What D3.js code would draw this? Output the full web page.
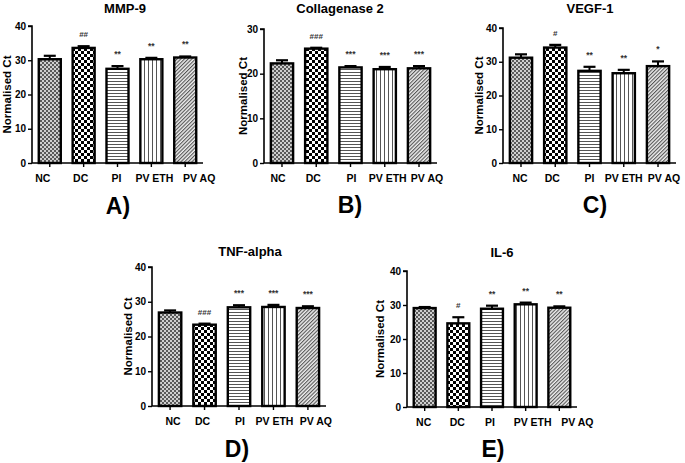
<!DOCTYPE html>
<html><head><meta charset="utf-8">
<script src="https://cdn.jsdelivr.net/npm/d3@7"></script>
<style>body{margin:0;background:#fff}svg{display:block}text{font-family:"Liberation Sans",Arial,sans-serif;font-weight:bold}</style>
</head><body><svg id="c" width="685" height="463"></svg>
<script>
// ---- data ----
const categories = ["NC", "DC", "PI", "PV ETH", "PV AQ"];
const panelTitles = ["MMP-9", "Collagenase 2", "VEGF-1", "TNF-alpha", "IL-6"];
const panelLetters = ["A)", "B)", "C)", "D)", "E)"];
const yAxisLabel = "Normalised Ct";

const mmp9Values = [30.3, 33.6, 27.5, 30.3, 30.8];
const mmp9Errors = [1.0, 0.5, 0.8, 0.4, 0.3];
const mmp9Signif = ["", "##", "**", "**", "**"];

const collagenaseValues = [22.3, 25.6, 21.4, 21.0, 21.2];
const collagenaseErrors = [0.7, 0.2, 0.3, 0.5, 0.5];
const collagenaseSignif = ["", "###", "***", "***", "***"];

const vegfValues = [31.2, 34.2, 27.3, 26.6, 28.7];
const vegfErrors = [1.0, 0.8, 1.2, 1.0, 1.4];
const vegfSignif = ["", "#", "**", "**", "*"];

const tnfValues = [26.9, 23.4, 28.4, 28.5, 28.2];
const tnfErrors = [0.6, 0.3, 0.6, 0.6, 0.5];
const tnfSignif = ["", "###", "***", "***", "***"];

const il6Values = [29.1, 24.6, 28.9, 30.2, 29.2];
const il6Errors = [0.3, 1.8, 0.9, 0.5, 0.4];
const il6Signif = ["", "#", "**", "**", "**"];

const ticks40 = [0, 10, 20, 30, 40];
const ticks30 = [0, 10, 20, 30];

// ---- layout ----
// labShift: horizontal offset of each category label from its tick
const layout = [
  {values: mmp9Values, errors: mmp9Errors, signif: mmp9Signif, ticks: ticks40,
   x0: 32, x1: 203, yTop: 26, yBot: 163, labShift: [-7, -3, -1, 3, 14], title: [125, 13], letter: [118, 214], ylab: 11},
  {values: collagenaseValues, errors: collagenaseErrors, signif: collagenaseSignif, ticks: ticks30,
   x0: 264, x1: 437, yTop: 29, yBot: 163, labShift: [-4, -3, 1, 3, 8], title: [340, 13], letter: [350, 213], ylab: 247},
  {values: vegfValues, errors: vegfErrors, signif: vegfSignif, ticks: ticks40,
   x0: 503, x1: 676, yTop: 28, yBot: 163, labShift: [-1, -3, 0, 0, 6], title: [590, 13], letter: [595, 213], ylab: 483},
  {values: tnfValues, errors: tnfErrors, signif: tnfSignif, ticks: ticks40,
   x0: 152, x1: 326, yTop: 267, yBot: 406, labShift: [3, -2, 1, 1, 8], title: [250, 256], letter: [237, 457], ylab: 132},
  {values: il6Values, errors: il6Errors, signif: il6Signif, ticks: ticks40,
   x0: 407, x1: 577, yTop: 271, yBot: 407, labShift: [-1, -1, -2, 7, 18], title: [502, 257], letter: [493, 457], ylab: 384}
];

const svg = d3.select("#c");
const defs = svg.append("defs");

// patterns
const pNC = defs.append("pattern").attr("id", "pNC").attr("patternUnits", "userSpaceOnUse").attr("width", 4).attr("height", 4);
pNC.append("rect").attr("width", 4).attr("height", 4).attr("fill", "#cfcfcf");
pNC.append("rect").attr("width", 2).attr("height", 2).attr("fill", "#5a5a5a");
pNC.append("rect").attr("x", 2).attr("y", 2).attr("width", 2).attr("height", 2).attr("fill", "#5a5a5a");

const pDC = defs.append("pattern").attr("id", "pDC").attr("patternUnits", "userSpaceOnUse").attr("width", 6).attr("height", 6);
pDC.append("rect").attr("width", 6).attr("height", 6).attr("fill", "#fff");
pDC.append("rect").attr("width", 3).attr("height", 3).attr("fill", "#000");
pDC.append("rect").attr("x", 3).attr("y", 3).attr("width", 3).attr("height", 3).attr("fill", "#000");

const pPI = defs.append("pattern").attr("id", "pPI").attr("patternUnits", "userSpaceOnUse").attr("width", 4).attr("height", 3);
pPI.append("rect").attr("width", 4).attr("height", 3).attr("fill", "#fff");
pPI.append("rect").attr("width", 4).attr("height", 1).attr("fill", "#555");

const pETH = defs.append("pattern").attr("id", "pETH").attr("patternUnits", "userSpaceOnUse").attr("width", 4).attr("height", 4);
pETH.append("rect").attr("width", 4).attr("height", 4).attr("fill", "#fff");
pETH.append("rect").attr("width", 1).attr("height", 4).attr("fill", "#555");

const pAQ = defs.append("pattern").attr("id", "pAQ").attr("patternUnits", "userSpaceOnUse").attr("width", 2.6).attr("height", 4).attr("patternTransform", "rotate(45)");
pAQ.append("rect").attr("width", 2.6).attr("height", 4).attr("fill", "#eee");
pAQ.append("rect").attr("width", 1.1).attr("height", 4).attr("fill", "#555");

const fills = ["url(#pNC)", "url(#pDC)", "url(#pPI)", "url(#pETH)", "url(#pAQ)"];

layout.forEach((p, i) => {
  const g = svg.append("g");
  const maxV = d3.max(p.ticks);
  const x = d3.scaleBand().domain(categories).range([p.x0, p.x1]).paddingInner(0.35).paddingOuter(0.2);
  const y = d3.scaleLinear().domain([0, maxV]).range([p.yBot, p.yTop]);

  // bars
  g.selectAll("rect.bar").data(categories).join("rect")
    .attr("x", d => x(d)).attr("width", x.bandwidth())
    .attr("y", (d, j) => y(p.values[j])).attr("height", (d, j) => y(0) - y(p.values[j]))
    .attr("fill", (d, j) => fills[j]).attr("stroke", "#000").attr("stroke-width", 2.4);

  // error bars
  const cap = 6;
  categories.forEach((c, j) => {
    const cx = x(c) + x.bandwidth() / 2;
    const top = y(p.values[j] + p.errors[j]);
    g.append("line").attr("x1", cx).attr("x2", cx).attr("y1", y(p.values[j])).attr("y2", top)
      .attr("stroke", "#000").attr("stroke-width", 2);
    g.append("line").attr("x1", cx - cap).attr("x2", cx + cap).attr("y1", top).attr("y2", top)
      .attr("stroke", "#000").attr("stroke-width", 2.2);
    if (p.signif[j]) {
      g.append("text").attr("x", cx).attr("y", top - 9).attr("text-anchor", "middle")
        .attr("font-size", p.signif[j].startsWith("#") ? 8 : 8.5).attr("fill", "#333")
        .attr("font-weight", "normal").text(p.signif[j]);
    }
  });

  // y axis
  const ya = g.append("g").attr("transform", `translate(${p.x0},0)`)
    .call(d3.axisLeft(y).tickValues(p.ticks).tickSize(4).tickPadding(2).tickFormat(d3.format("d")));
  ya.select(".domain").attr("stroke-width", 1.6).attr("d", `M-4,${p.yTop}H0V${p.yBot}`);
  ya.selectAll(".tick line").attr("stroke-width", 1.4);
  ya.selectAll(".tick text").attr("font-size", 10).attr("font-family", "Liberation Sans, Arial, sans-serif").attr("font-weight", "bold");

  // x axis
  const xa = g.append("g").attr("transform", `translate(0,${p.yBot})`)
    .call(d3.axisBottom(x).tickSize(4).tickFormat(""));
  xa.select(".domain").attr("stroke-width", 1.6).attr("d", `M${p.x0},0H${p.x1}`);
  xa.selectAll(".tick line").attr("stroke-width", 1.4);
  g.selectAll("text.xl").data(categories).join("text").attr("class", "xl")
    .attr("x", (d, j) => x(d) + x.bandwidth() / 2 + p.labShift[j]).attr("y", p.yBot + 19).attr("text-anchor", "middle")
    .attr("font-size", 10.5).text(d => d);

  // y label
  g.append("text").attr("transform", `translate(${p.ylab},${(p.yTop + p.yBot) / 2}) rotate(-90)`)
    .attr("text-anchor", "middle").attr("font-size", 11.5).text(yAxisLabel);

  // title
  g.append("text").attr("x", p.title[0]).attr("y", p.title[1]).attr("text-anchor", "middle")
    .attr("font-size", 13).text(panelTitles[i]);

  // letter
  g.append("text").attr("x", p.letter[0]).attr("y", p.letter[1]).attr("text-anchor", "middle")
    .attr("font-size", 23).text(panelLetters[i]);
});
</script></body></html>
